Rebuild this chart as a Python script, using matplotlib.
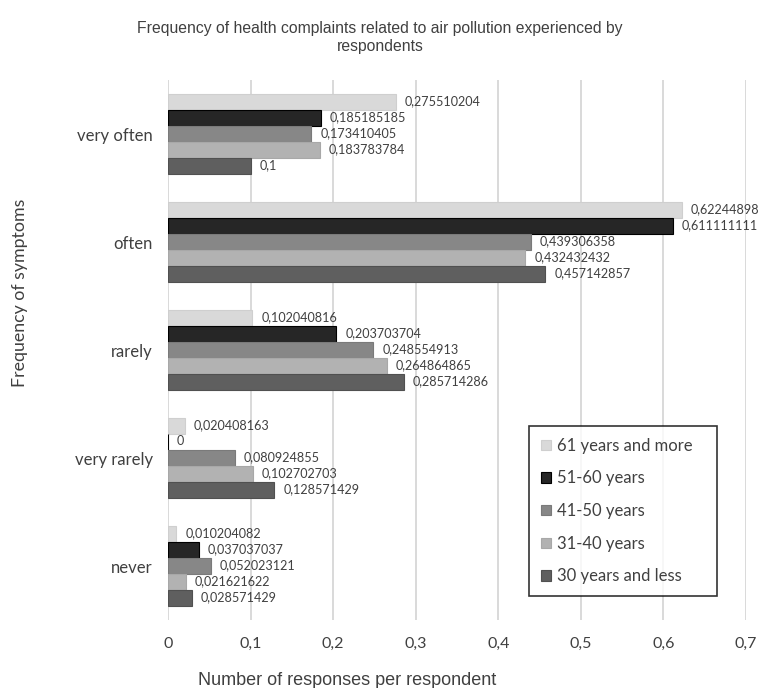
import numpy as np
import matplotlib
matplotlib.use('Agg')
import matplotlib.pyplot as plt

# answer categories, top to bottom
categories = ['very often', 'often', 'rarely', 'very rarely', 'never']

# age groups in the order they appear inside each category
groups = ['61 years and more', '51-60 years', '41-50 years', '31-40 years', '30 years and less']

age_61_plus = [0.275510204, 0.62244898, 0.102040816, 0.020408163, 0.010204082]
age_51_60 = [0.185185185, 0.611111111, 0.203703704, 0.0, 0.037037037]
age_41_50 = [0.173410405, 0.439306358, 0.248554913, 0.080924855, 0.052023121]
age_31_40 = [0.183783784, 0.432432432, 0.264864865, 0.102702703, 0.021621622]
age_30_less = [0.1, 0.457142857, 0.285714286, 0.128571429, 0.028571429]

series = [age_61_plus, age_51_60, age_41_50, age_31_40, age_30_less]
colors = ['#d9d9d9', '#262626', '#878787', '#b2b2b2', '#5f5f5f']
edges = ['#cfcfcf', '#000000', '#7a7a7a', '#a8a8a8', '#505050']

xticks = [0, 0.1, 0.2, 0.3, 0.4, 0.5, 0.6, 0.7]

plt.rcParams['font.family'] = ['Lato', 'DejaVu Sans']
txt = '#404040'
narrow = ['Liberation Sans Narrow', 'Liberation Sans', 'DejaVu Sans']


def comma(v):
    s = f'{v:.9f}'.rstrip('0').rstrip('.')
    return s.replace('.', ',')


fig = plt.figure(figsize=(7.6, 6.88), dpi=100)
ax = fig.add_axes([0.2211, 0.0988, 0.7605, 0.7849])

h = 0.148
y = np.arange(len(categories))
for i, vals in enumerate(series):
    pos = y + (i - 2) * h
    ax.barh(pos, vals, height=h, color=colors[i], edgecolor=edges[i],
            linewidth=0.8, label=groups[i], zorder=3)
    for p, v in zip(pos, vals):
        ax.text(v + 0.011, p - 0.01, comma(v), va='center', ha='left',
                fontsize=9.1, color=txt, zorder=4)

ax.set_ylim(len(categories) - 0.5, -0.5)
ax.set_yticks(y)
ax.set_yticklabels(categories, fontsize=12, color=txt)
ax.set_xlim(0, 0.7)
ax.set_xticks(xticks)
ax.set_xticklabels([comma(t) for t in xticks], fontsize=11.5, color=txt)
ax.tick_params(axis='both', length=0)
ax.tick_params(axis='x', pad=12)
ax.tick_params(axis='y', pad=11)
ax.grid(axis='x', color='#d0d0d0', linewidth=1.1, zorder=0)
for s in ax.spines.values():
    s.set_visible(False)

fig.text(0.5, 0.946, 'Frequency of health complaints related to air pollution experienced by\nrespondents',
         ha='center', va='center', fontsize=11.3, family=narrow,
         color=txt, linespacing=1.25)
fig.text(0.4565, 0.011, 'Number of responses per respondent', ha='center', va='center',
         fontsize=13, family=narrow, color=txt)
fig.text(0.026, 0.574, 'Frequency of symptoms', ha='center', va='center', rotation=90,
         fontsize=12.8, color=txt)

leg = ax.legend(loc='lower left', bbox_to_anchor=((529 - 168) / 578, (620 - 596) / 540,
                                                    (717 - 529) / 578, (596 - 425) / 540),
                mode='expand', frameon=True, fancybox=False, fontsize=12,
                handlelength=0.6, handleheight=0.6, handletextpad=0.4,
                labelspacing=1.0, borderpad=0.7, borderaxespad=0)
leg.get_frame().set_edgecolor('#000000')
leg.get_frame().set_linewidth(1.2)
for t in leg.get_texts():
    t.set_color(txt)

fig.savefig('out.png', dpi=100)
